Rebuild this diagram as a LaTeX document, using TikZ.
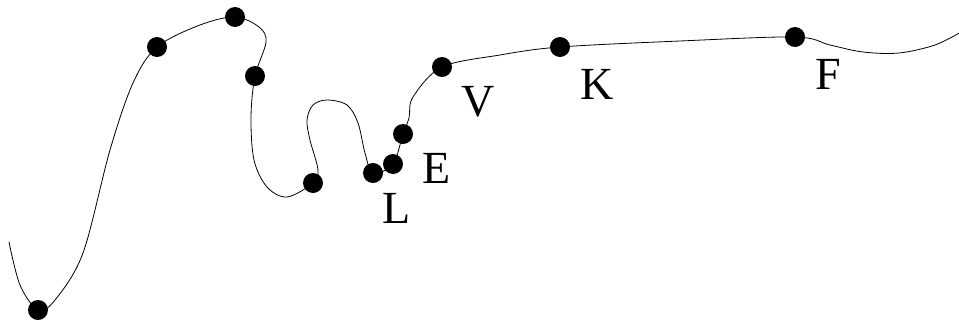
\documentclass[tikz,border=0pt]{standalone}
\usepackage{fontspec}
\setmainfont{Liberation Serif}
\begin{document}
\begin{tikzpicture}[x=1pt,y=-1pt,
  dot/.style={circle,fill=black,inner sep=0pt,minimum size=20pt},
  lbl/.style={inner sep=0pt,font=\fontsize{46}{50}\selectfont}]
\useasboundingbox (0,0) rectangle (959,322);
\coordinate (s) at (9,242);
\coordinate (e) at (961,32);
\coordinate (p1) at (38,310);
\coordinate (p2) at (157,47);
\coordinate (p3) at (235,17);
\coordinate (p4) at (255,76);
\coordinate (p5) at (313,183);
\coordinate (p6) at (373,173);
\coordinate (p7) at (393,164);
\coordinate (p8) at (403,134);
\coordinate (p9) at (442,67);
\coordinate (p10) at (560,47);
\coordinate (p11) at (795,37);
\draw[line width=0.8pt] plot[smooth,tension=0.55] coordinates {
 (s) (20,285) (p1) (55,300) (83,253) (110,150) (133,83) (p2) (200,25) (p3)
 (259,27) (266,42) (p4) (251,117) (254,160) (267,187) (287,197) (p5)
 (318,170) (310,140) (307,120) (313,105) (327,100) (347,105) (358,123) (365,153) (p6)
 (p7) (p8) (409,118) (413,97) (p9) (500,55) (p10) (680,41) (p11) (830,45) (863,52) (899,53) (935,45) (e)};
\foreach \p in {p1,p2,p3,p4,p5,p6,p7,p8,p9,p10,p11} \node[dot] (d\p) at (\p) {};
\node[lbl] (lL) at (397,208) {L};
\node[lbl] (lE) at (437,168) {E};
\node[lbl] (lV) at (478,102) {V};
\node[lbl] (lK) at (597,84) {K};
\node[lbl] (lF) at (828,74) {F};
\end{tikzpicture}
\end{document}
